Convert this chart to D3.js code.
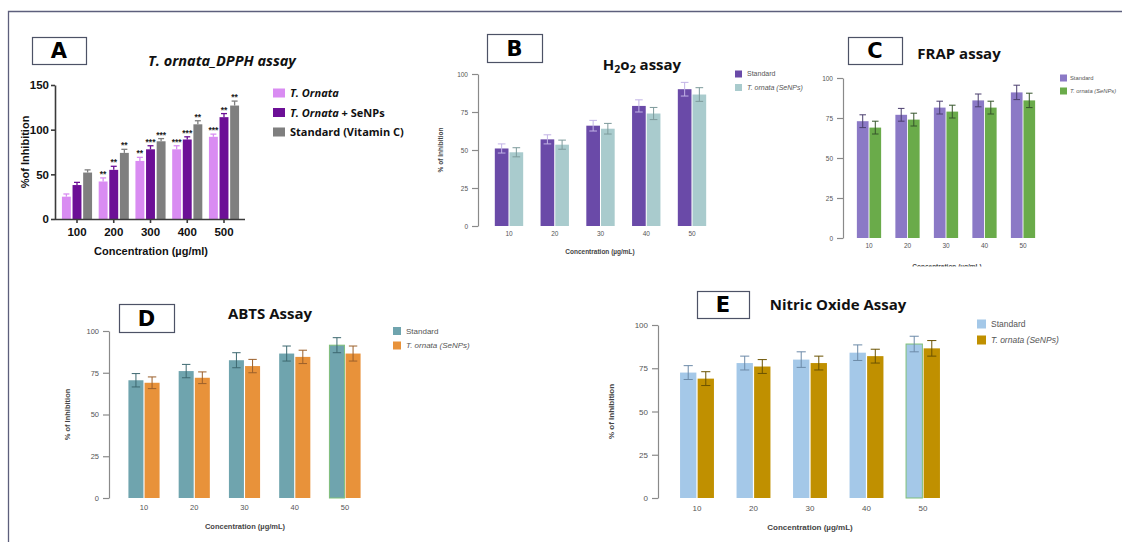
<!DOCTYPE html>
<html><head><meta charset="utf-8">
<script src="https://cdn.jsdelivr.net/npm/d3@7"></script>
<style>
body{margin:0;background:#fff}
svg{display:block}
</style>
</head><body>
<svg id="fig" width="1122" height="542"></svg>
<script>
// ---- DPPH assay (panel A) ----
const dpphConc = ["100", "200", "300", "400", "500"];
const dpphOrnata = [25, 42, 65, 78, 92];
const dpphOrnataErr = [3, 4, 4, 4, 3];
const dpphSeNPs = [38, 55, 78, 89, 114];
const dpphSeNPsErr = [3, 4, 4, 3, 4];
const dpphStandard = [52, 74, 87, 106, 127];
const dpphStandardErr = [3, 4, 3, 4, 5];
const dpphStars = [
  ["", "", ""],
  ["**", "**", "**"],
  ["**", "***", "***"],
  ["***", "***", "**"],
  ["***", "**", "**"]
];
const dpphTicks = [0, 50, 100, 150];

// ---- Two-series assays (panels B–E) ----
const assayConc = ["10", "20", "30", "40", "50"];
const pctTicks = [0, 25, 50, 75, 100];

const h2o2Standard = [51, 57, 66, 79, 90];
const h2o2StandardErr = [3, 3, 3.5, 4, 4.5];
const h2o2Ornata = [48.5, 53.5, 64, 74, 86.5];
const h2o2OrnataErr = [3, 3, 3.5, 4, 4.5];

const frapStandard = [73, 77, 81.5, 86, 91];
const frapStandardErr = [4, 4, 4, 4, 4.5];
const frapOrnata = [69, 74, 79, 81.5, 86];
const frapOrnataErr = [4, 4, 4, 4, 4.5];

const abtsStandard = [70.5, 76, 82.5, 86.5, 91.5];
const abtsStandardErr = [4, 4, 4.5, 4.5, 4.5];
const abtsOrnata = [69, 72, 79, 84.5, 86.5];
const abtsOrnataErr = [3.5, 3.5, 4, 4, 4.5];

const noStandard = [72.5, 78, 80, 84, 89];
const noStandardErr = [4, 4, 4.5, 4.5, 4.5];
const noOrnata = [69, 76, 78, 82, 86.5];
const noOrnataErr = [4, 4, 4, 4, 4.5];

const svg = d3.select("#fig");
const SANS = "'Liberation Sans', Arial, sans-serif";
const HEAD = "'Open Sans', 'Noto Sans', sans-serif";

// outer frame (top and left rules)
svg.append("path")
  .attr("d", "M8.5,542 L8.5,11.5 L1122,11.5")
  .attr("fill", "none").attr("stroke", "#5d5f7c").attr("stroke-width", 1.3);

function letterBox(letter, x, y, w, h) {
  svg.append("rect").attr("x", x + 0.5).attr("y", y + 0.5).attr("width", w).attr("height", h)
    .attr("fill", "#fff").attr("stroke", "#4d5266").attr("stroke-width", 1.2);
  svg.append("text").attr("x", x + w / 2).attr("y", y + h / 2 + 7.5)
    .attr("text-anchor", "middle").attr("font-family", "'DejaVu Sans', sans-serif")
    .attr("font-weight", "bold").attr("font-size", 21).attr("fill", "#000").text(letter);
}

// ---------- Panel A ----------
(function () {
  const g = svg.append("g");
  const y = d3.scaleLinear().domain([0, 150]).range([219, 85]);
  const step = 36.75;
  const x = d3.scaleBand().domain(dpphConc)
    .range([77 - step / 2, 224 + step / 2]).paddingInner(0.18).paddingOuter(0.09);
  const series = [
    { vals: dpphOrnata, err: dpphOrnataErr, color: "#d98cf2" },
    { vals: dpphSeNPs, err: dpphSeNPsErr, color: "#6c0f96" },
    { vals: dpphStandard, err: dpphStandardErr, color: "#7f7f7f" }
  ];
  const xi = d3.scaleBand().domain([0, 1, 2]).range([0, x.bandwidth()]).paddingInner(0.16);

  series.forEach((s, si) => {
    dpphConc.forEach((c, i) => {
      const bx = x(c) + xi(si), bw = xi.bandwidth();
      const top = y(s.vals[i]), etop = y(s.vals[i] + s.err[i]);
      g.append("rect").attr("x", bx).attr("y", top).attr("width", bw)
        .attr("height", y(0) - top).attr("fill", s.color);
      g.append("line").attr("x1", bx + bw / 2).attr("x2", bx + bw / 2)
        .attr("y1", top).attr("y2", etop).attr("stroke", s.color).attr("stroke-width", 1.3);
      g.append("line").attr("x1", bx + bw / 2 - 3).attr("x2", bx + bw / 2 + 3)
        .attr("y1", etop).attr("y2", etop).attr("stroke", s.color).attr("stroke-width", 1.3);
      const star = dpphStars[i][si];
      if (star) {
        g.append("text").attr("x", bx + bw / 2).attr("y", etop - 1)
          .attr("text-anchor", "middle").attr("font-family", SANS).attr("font-weight", "bold")
          .attr("font-size", 8.5).attr("fill", "#222").text(star);
      }
    });
  });

  const ya = g.append("g").attr("transform", "translate(55,0)")
    .call(d3.axisLeft(y).tickValues(dpphTicks).tickSize(4).tickSizeOuter(0).tickPadding(2));
  const xa = g.append("g").attr("transform", `translate(0,${y(0)})`)
    .call(d3.axisBottom(x).tickSize(4).tickSizeOuter(0).tickPadding(5));
  xa.select(".domain").attr("d", `M55,0.5H245`);
  [ya, xa].forEach(a => {
    a.selectAll("path,line").attr("stroke", "#3a3a3a").attr("stroke-width", 1.6);
    a.selectAll("text").attr("font-family", SANS).attr("font-weight", "bold")
      .attr("font-size", 11.5).attr("fill", "#111");
  });

  g.append("text").attr("transform", "translate(29,152) rotate(-90)")
    .attr("text-anchor", "middle").attr("font-family", SANS).attr("font-weight", "bold")
    .attr("font-size", 11).attr("fill", "#111").text("%of Inhibition");
  g.append("text").attr("x", 151).attr("y", 255).attr("text-anchor", "middle")
    .attr("font-family", SANS).attr("font-weight", "bold").attr("font-size", 11)
    .attr("fill", "#111").text("Concentration (µg/ml)");

  g.append("text").attr("x", 222).attr("y", 66).attr("text-anchor", "middle")
    .attr("font-family", HEAD).attr("font-weight", "bold").attr("font-style", "italic")
    .attr("font-size", 14.5).attr("fill", "#111").text("T. ornata_DPPH assay");

  const legendRows = [
    { parts: [["T. Ornata", "italic"]], color: series[0].color },
    { parts: [["T. Ornata", "italic"], [" + SeNPs", "normal"]], color: series[1].color },
    { parts: [["Standard (Vitamin C)", "normal"]], color: series[2].color }
  ];
  legendRows.forEach((r, i) => {
    const cy = 93 + i * 19.5;
    g.append("rect").attr("x", 273).attr("y", cy - 4.5).attr("width", 12).attr("height", 9).attr("fill", r.color);
    const t = g.append("text").attr("x", 290).attr("y", cy + 4).attr("font-family", HEAD)
      .attr("font-weight", "bold").attr("font-size", 11).attr("fill", "#111");
    r.parts.forEach(p => t.append("tspan").attr("font-style", p[1]).text(p[0]));
  });
  letterBox("A", 32, 37, 54, 27);
})();

// ---------- Panels B–E ----------
function assayPanel(o) {
  const g = svg.append("g");
  let labelLayer = g;
  if (o.clipBottom) {
    const id = "clip" + o.letter;
    svg.append("clipPath").attr("id", id).append("rect")
      .attr("x", 0).attr("y", 0).attr("width", 1122).attr("height", o.clipBottom);
    labelLayer = g.append("g").attr("clip-path", `url(#${id})`);
  }
  const y = d3.scaleLinear().domain([0, 100]).range([o.y0, o.y100]);
  const step = (o.cLast - o.cFirst) / (assayConc.length - 1);
  const x = d3.scaleBand().domain(assayConc)
    .range([o.cFirst - step / 2, o.cLast + step / 2]).paddingInner(o.pad).paddingOuter(o.pad / 2);
  const xi = d3.scaleBand().domain([0, 1]).range([0, x.bandwidth()]).paddingInner(0.07);

  o.series.forEach((s, si) => {
    assayConc.forEach((c, i) => {
      const bx = x(c) + xi(si), bw = xi.bandwidth();
      const top = y(s.vals[i]);
      const r = g.append("rect").attr("x", bx).attr("y", top).attr("width", bw)
        .attr("height", y(0) - top).attr("fill", s.color);
      if (o.highlightLast && si === 0 && i === assayConc.length - 1) {
        r.attr("stroke", "#7fbf7a").attr("stroke-width", 1);
      }
      const e1 = y(s.vals[i] + s.err[i]), e0 = y(s.vals[i] - s.err[i]);
      const cx = bx + bw / 2, cw = bw * 0.28;
      g.append("path").attr("d", `M${cx},${e0}V${e1}M${cx - cw},${e1}H${cx + cw}M${cx - cw},${e0}H${cx + cw}`)
        .attr("fill", "none").attr("stroke", s.errColor).attr("stroke-width", 1);
    });
  });

  const ya = g.append("g").attr("transform", `translate(${o.axisX},0)`)
    .call(d3.axisLeft(y).tickValues(pctTicks).tickSize(6).tickSizeOuter(0).tickPadding(4));
  ya.selectAll("path,line").attr("stroke", "#8a8a8a").attr("stroke-width", 1.2);
  ya.selectAll("text").attr("font-family", SANS).attr("font-size", o.tickFont).attr("fill", "#555");

  const xa = g.append("g").attr("transform", `translate(0,${o.y0})`)
    .call(d3.axisBottom(x).tickSize(0).tickPadding(o.tickFont * 0.9));
  xa.select(".domain").remove();
  xa.selectAll("text").attr("font-family", SANS).attr("font-size", o.tickFont).attr("fill", "#555");

  if (o.ylabX !== null) {
    g.append("text").attr("transform", `translate(${o.ylabX},${(o.y0 + o.y100) / 2}) rotate(-90)`)
      .attr("text-anchor", "middle").attr("font-family", SANS).attr("font-weight", "bold")
      .attr("font-size", o.labFont).attr("fill", "#444").text("% of Inhibition");
  }
  labelLayer.append("text").attr("x", o.xlabX).attr("y", o.xlabY).attr("text-anchor", "middle")
    .attr("font-family", SANS).attr("font-weight", "bold").attr("font-size", o.labFont)
    .attr("fill", "#444").text("Concentration (µg/mL)");

  const tt = g.append("text").attr("x", o.titleX).attr("y", o.titleY).attr("text-anchor", "middle")
    .attr("font-family", HEAD).attr("font-weight", "bold").attr("font-size", o.titleFont).attr("fill", "#111");
  o.title.forEach(p => {
    const s = tt.append("tspan").text(p[0]);
    if (p[1] === "sub") s.attr("font-size", o.titleFont * 0.7).attr("dy", 3);
    if (p[1] === "up") s.attr("dy", -3);
  });

  o.series.forEach((s, si) => {
    const cy = o.legY + si * o.legGap;
    g.append("rect").attr("x", o.legX).attr("y", cy - o.legBox / 2).attr("width", o.legBox)
      .attr("height", o.legBox).attr("fill", s.color);
    const t = g.append("text").attr("x", o.legX + o.legBox + o.legPad).attr("y", cy + o.legFont * 0.35)
      .attr("font-family", SANS).attr("font-size", o.legFont).attr("fill", "#555");
    if (si === 0) t.text("Standard");
    else t.append("tspan").attr("font-style", "italic").text("T. ornata (SeNPs)");
  });

  letterBox(o.letter, o.box[0], o.box[1], o.box[2], o.box[3]);
}

assayPanel({
  letter: "B", box: [487, 34, 55, 28],
  title: [["H", ""], ["2", "sub"], ["o", "up"], ["2", "sub"], [" assay", "up"]],
  titleX: 642, titleY: 70, titleFont: 15,
  y0: 226, y100: 74, axisX: 478, cFirst: 509, cLast: 692, pad: 0.38,
  tickFont: 6.5, labFont: 6.5, ylabX: 443, xlabX: 600, xlabY: 254,
  legX: 735, legY: 74, legGap: 13.5, legBox: 7, legPad: 5, legFont: 7,
  series: [
    { vals: h2o2Standard, err: h2o2StandardErr, color: "#6a4aa8", errColor: "#c2b3e6" },
    { vals: h2o2Ornata, err: h2o2OrnataErr, color: "#a9cbcd", errColor: "#7d9a9b" }
  ]
});

assayPanel({
  letter: "C", box: [848, 37, 54, 27],
  title: [["FRAP assay", ""]], titleX: 959, titleY: 59, titleFont: 15,
  y0: 238, y100: 78, axisX: 843, cFirst: 869, cLast: 1023, pad: 0.37,
  tickFont: 6.5, labFont: 6.5, ylabX: null, xlabX: 947, xlabY: 268.5, clipBottom: 266.5,
  legX: 1060, legY: 78, legGap: 13, legBox: 7, legPad: 3, legFont: 5.8,
  series: [
    { vals: frapStandard, err: frapStandardErr, color: "#8b79c6", errColor: "#4a3e6e" },
    { vals: frapOrnata, err: frapOrnataErr, color: "#6aab4a", errColor: "#35542a" }
  ]
});

assayPanel({
  letter: "D", box: [119, 304, 55, 28],
  title: [["ABTS Assay", ""]], titleX: 270, titleY: 319, titleFont: 15,
  y0: 498, y100: 331, axisX: 109, cFirst: 144, cLast: 345, pad: 0.38,
  tickFont: 7.5, labFont: 7.5, ylabX: 70, xlabX: 245, xlabY: 529, highlightLast: true,
  legX: 393, legY: 331, legGap: 14.5, legBox: 8, legPad: 5, legFont: 8,
  series: [
    { vals: abtsStandard, err: abtsStandardErr, color: "#6fa4ae", errColor: "#3d6870" },
    { vals: abtsOrnata, err: abtsOrnataErr, color: "#e8923a", errColor: "#9b5f2a" }
  ]
});

assayPanel({
  letter: "E", box: [697, 291, 52, 27],
  title: [["Nitric Oxide Assay", ""]], titleX: 838, titleY: 310, titleFont: 15,
  y0: 498, y100: 325, axisX: 658, cFirst: 697, cLast: 923, pad: 0.4,
  tickFont: 8, labFont: 8, ylabX: 614, xlabX: 810, xlabY: 530, highlightLast: true,
  legX: 977, legY: 324, legGap: 16, legBox: 9, legPad: 5, legFont: 8.5,
  series: [
    { vals: noStandard, err: noStandardErr, color: "#a4c8e8", errColor: "#6c8aa8" },
    { vals: noOrnata, err: noOrnataErr, color: "#c09000", errColor: "#6a5200" }
  ]
});
</script>
</body></html>
